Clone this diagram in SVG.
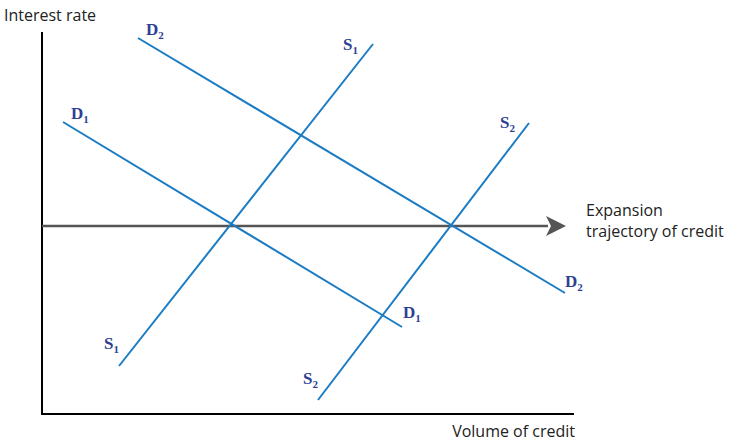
<svg xmlns="http://www.w3.org/2000/svg" width="729" height="441" viewBox="0 0 729 441">
<style>
.ax{stroke:#000;stroke-width:2;fill:none}
.cv{stroke:#1b7cc4;stroke-width:2;fill:none}
.lb{font-family:"Liberation Serif",serif;font-weight:bold;font-size:17px;fill:#2e3f93}
.sb{font-size:11px}
.tx{font-family:"Open Sans","Liberation Sans",sans-serif;font-size:16px;fill:#222}
</style>
<g id="axes">
<line class="ax" x1="42" y1="32" x2="42" y2="415"/>
<line class="ax" x1="41" y1="414" x2="574" y2="414"/>
<text class="tx" x="4" y="21">Interest rate</text>
<text class="tx" x="575" y="437" text-anchor="end">Volume of credit</text>
</g>
<g id="connectors">
<line x1="42" y1="226" x2="548" y2="226" stroke="#555" stroke-width="2.5"/>
<path d="M546,216 L566,226 L546,236 L551,226 z" fill="#555"/>
<line class="cv" x1="138" y1="38" x2="565" y2="293"/>
<line class="cv" x1="63" y1="122" x2="402" y2="327"/>
<line class="cv" x1="373" y1="44" x2="119" y2="366"/>
<line class="cv" x1="529" y1="123" x2="318" y2="400"/>
</g>
<g id="expansion"><text class="tx" x="586" y="216">Expansion</text><text class="tx" x="586" y="237">trajectory of credit</text></g>
<g id="D2-top"><text class="lb" x="146" y="35">D<tspan class="sb" dy="4">2</tspan></text></g>
<g id="D1-top"><text class="lb" x="71" y="119">D<tspan class="sb" dy="4">1</tspan></text></g>
<g id="S1-top"><text class="lb" x="343" y="50">S<tspan class="sb" dy="4">1</tspan></text></g>
<g id="S2-top"><text class="lb" x="500" y="128">S<tspan class="sb" dy="4">2</tspan></text></g>
<g id="D2-bot"><text class="lb" x="565" y="287">D<tspan class="sb" dy="4">2</tspan></text></g>
<g id="D1-bot"><text class="lb" x="403" y="318">D<tspan class="sb" dy="4">1</tspan></text></g>
<g id="S1-bot"><text class="lb" x="104" y="349">S<tspan class="sb" dy="4">1</tspan></text></g>
<g id="S2-bot"><text class="lb" x="303" y="384">S<tspan class="sb" dy="4">2</tspan></text></g>
</svg>
